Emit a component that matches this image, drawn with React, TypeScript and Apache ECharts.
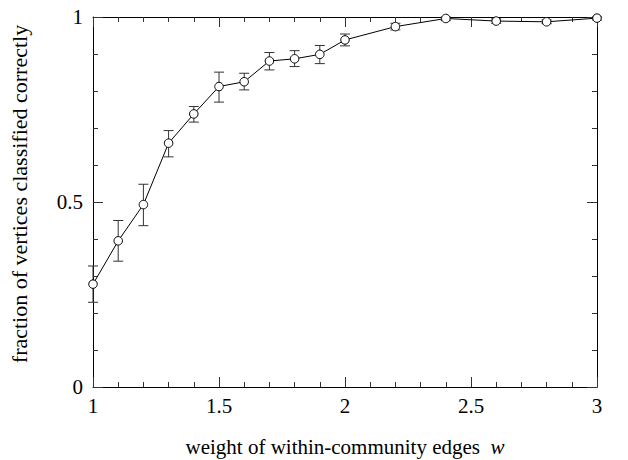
import React, { useEffect, useRef } from "react";
import * as echarts from "echarts";

const wValues = [1, 1.1, 1.2, 1.3, 1.4, 1.5, 1.6, 1.7, 1.8, 1.9, 2.0, 2.2, 2.4, 2.6, 2.8, 3.0];
const fraction = [0.278, 0.395, 0.493, 0.659, 0.738, 0.812, 0.825, 0.881, 0.887, 0.899, 0.938, 0.974, 0.996, 0.989, 0.987, 0.997];
const errLow = [0.229, 0.34, 0.436, 0.622, 0.716, 0.77, 0.803, 0.857, 0.866, 0.874, 0.922, 0.965, 0.99, 0.983, 0.982, 0.992];
const errHigh = [0.327, 0.45, 0.548, 0.693, 0.758, 0.851, 0.848, 0.904, 0.909, 0.923, 0.954, 0.983, 1.0, 0.995, 0.992, 1.0];

const xTitle = "weight of within-community edges  {i|w}";
const yTitle = "fraction of vertices classified correctly";

const FONT = "'Liberation Serif', 'Times New Roman', serif";

export default function App() {
  const ref = useRef<HTMLDivElement>(null);
  useEffect(() => {
    if (!ref.current) return;
    const chart = echarts.init(ref.current, undefined, { renderer: "svg" });
    const axisCommon = {
      axisLine: { show: true, onZero: false, lineStyle: { color: "#000", width: 1 } },
      axisTick: { show: true, inside: true, length: 10, lineStyle: { color: "#333", width: 1 } },
      minorTick: { show: true, splitNumber: 5, length: 5, lineStyle: { color: "#333", width: 1 } },
      splitLine: { show: false },
      minorSplitLine: { show: false },
    };
    chart.setOption({
      animation: false,
      backgroundColor: "#fff",
      grid: { left: 93, right: 31, top: 17, bottom: 73, containLabel: false },
      graphic: [
        {
          type: "text",
          x: 345,
          y: 447,
          style: {
            text: xTitle,
            align: "center",
            verticalAlign: "middle",
            fill: "#000",
            fontFamily: FONT,
            fontSize: 21,
            rich: { i: { fontStyle: "italic", fontFamily: FONT, fontSize: 21, fill: "#000" } },
          },
        },
        {
          type: "text",
          x: 19,
          y: 194,
          rotation: Math.PI / 2,
          style: {
            text: yTitle,
            align: "center",
            verticalAlign: "middle",
            fill: "#000",
            fontFamily: FONT,
            fontSize: 22,
          },
        },
      ],
      xAxis: [
        {
          type: "value",
          min: 1,
          max: 3,
          interval: 0.5,
          position: "bottom",
          ...axisCommon,
          axisLabel: { show: true, margin: 8, color: "#000", fontFamily: FONT, fontSize: 21 },
        },
        {
          type: "value",
          min: 1,
          max: 3,
          interval: 0.5,
          position: "top",
          ...axisCommon,
          axisLabel: { show: false },
        },
      ],
      yAxis: [
        {
          type: "value",
          min: 0,
          max: 1,
          interval: 0.5,
          position: "left",
          ...axisCommon,
          axisLabel: { show: true, margin: 10, color: "#000", fontFamily: FONT, fontSize: 21 },
        },
        {
          type: "value",
          min: 0,
          max: 1,
          interval: 0.5,
          position: "right",
          ...axisCommon,
          axisLabel: { show: false },
        },
      ],
      series: [
        {
          type: "custom",
          xAxisIndex: 0,
          yAxisIndex: 0,
          clip: false,
          z: 2,
          data: wValues.map((w, i) => [w, errLow[i], errHigh[i]]),
          encode: { x: 0, y: [1, 2] },
          renderItem: (params: any, api: any) => {
            const x = api.value(0);
            const lo = api.coord([x, api.value(1)]);
            const hi = api.coord([x, api.value(2)]);
            const hw = 5;
            const st = { stroke: "#333", lineWidth: 1 };
            return {
              type: "group",
              children: [
                { type: "line", shape: { x1: lo[0], y1: lo[1], x2: hi[0], y2: hi[1] }, style: st },
                { type: "line", shape: { x1: lo[0] - hw, y1: lo[1], x2: lo[0] + hw, y2: lo[1] }, style: st },
                { type: "line", shape: { x1: hi[0] - hw, y1: hi[1], x2: hi[0] + hw, y2: hi[1] }, style: st },
              ],
            };
          },
        },
        {
          type: "line",
          xAxisIndex: 0,
          yAxisIndex: 0,
          clip: false,
          z: 3,
          data: wValues.map((w, i) => [w, fraction[i]]),
          symbol: "circle",
          symbolSize: 8.5,
          showAllSymbol: true,
          lineStyle: { color: "#000", width: 1 },
          itemStyle: { color: "#fff", borderColor: "#000", borderWidth: 1 },
          emphasis: { disabled: true },
        },
      ],
    });
    return () => chart.dispose();
  }, []);
  return (
    <div
      ref={ref}
      style={{ position: "fixed", left: 0, top: 0, width: 628, height: 460, background: "#fff" }}
    />
  );
}
